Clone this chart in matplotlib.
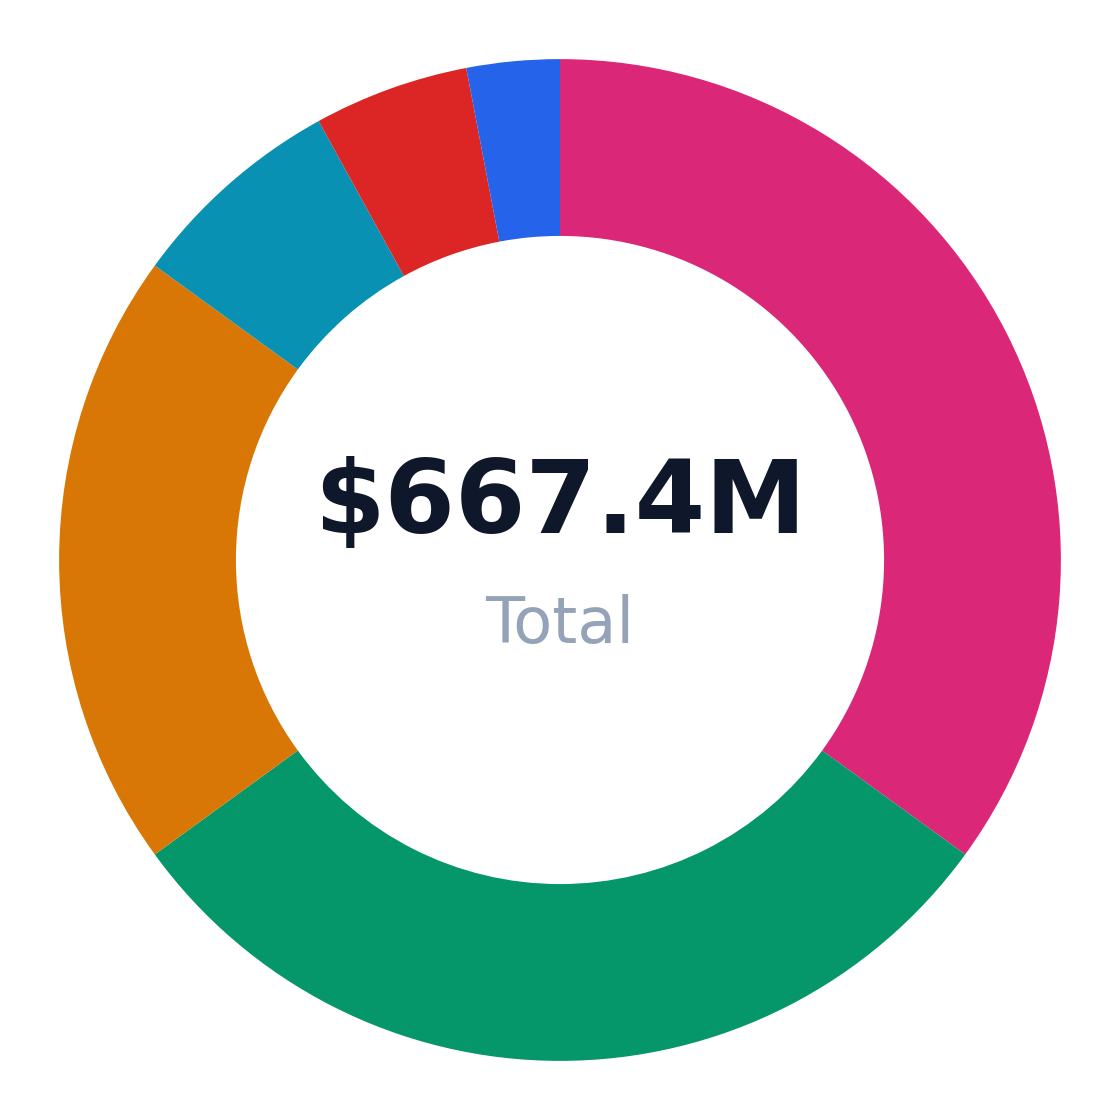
import matplotlib
matplotlib.use("Agg")
import matplotlib.pyplot as plt

labels = ["A", "B", "C", "D", "E", "F"]
values = [233.6, 200.2, 133.5, 46.7, 33.4, 20.0]
colors = ["#db2777", "#059669", "#d97706", "#0891b2", "#dc2626", "#2563eb"]
total_label = "$667.4M"
sub_label = "Total"

fig = plt.figure(figsize=(11.2, 11.2), dpi=100)
ax = fig.add_axes([0, 0, 1, 1])
ax.pie(values, colors=colors, startangle=90, counterclock=False,
       wedgeprops=dict(width=0.353, linewidth=0), radius=1)
ax.set_xlim(-1.118, 1.118)
ax.set_ylim(-1.118, 1.118)
ax.set_aspect("equal")
ax.axis("off")
ax.text(0, 0.11, total_label, ha="center", va="center", fontsize=73,
        fontweight="bold", color="#0f172a")
ax.text(0, -0.13, sub_label, ha="center", va="center", fontsize=46,
        color="#94a3b8")
fig.savefig("out.png", dpi=100)
